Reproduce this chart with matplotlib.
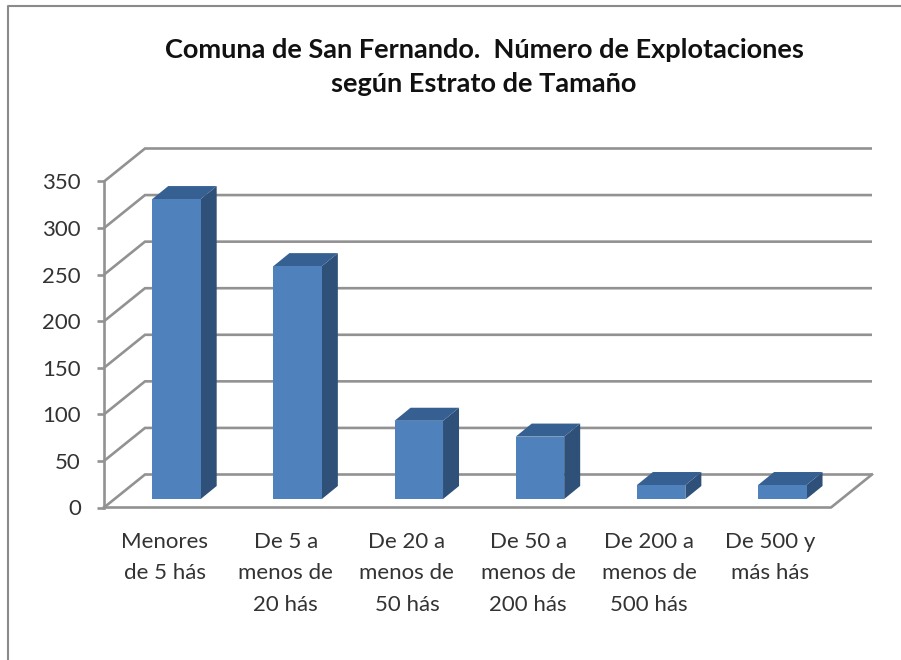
import matplotlib
matplotlib.use('Agg')
import matplotlib.pyplot as plt
from matplotlib.patches import Polygon

plt.rcParams['font.family'] = ['Lato', 'DejaVu Sans']

W = 901
H = 660

categories = ['Menores\nde 5 hás', 'De 5 a\nmenos de\n20 hás', 'De 20 a\nmenos de\n50 hás',
              'De 50 a\nmenos de\n200 hás', 'De 200 a\nmenos de\n500 hás', 'De 500 y\nmás hás']
values = [322, 250, 84, 67, 15, 15]
y_ticks = [0, 50, 100, 150, 200, 250, 300, 350]
title = 'Comuna de San Fernando.  Número de Explotaciones\nsegún Estrato de Tamaño'

grid_col = '#929292'
front_col = '#4f81bd'
side_col = '#2f5078'
top_col = '#376092'

fig = plt.figure(figsize=(W / 100, H / 100), dpi=100)

# outer frame of the pasted picture
frame = fig.add_axes([0, 0, 1, 1])
frame.set_xlim(0, W)
frame.set_ylim(H, 0)
frame.axis('off')
frame.plot([8, 8, W], [H, 6, 6], color='#8a8a8a', lw=1.5)

# axes box = front plane of the 3d chart
left, right, bottom, top = 104, 831, 507.5, 181.5
ax = fig.add_axes([left / W, 1 - bottom / H, (right - left) / W, (bottom - top) / H])
ax.set_xlim(-0.5, 5.5)
ax.set_ylim(0, 350)
ax.axis('off')

# depth of the box in data units
dx = 41 / ((right - left) / 6)
dy = 33 / ((bottom - top) / 350)

for v in y_ticks:
    ax.plot([-0.5, -0.5 + dx, 5.5 + dx], [v, v + dy, v + dy], color=grid_col, lw=1.9,
            clip_on=False, solid_joinstyle='miter', solid_capstyle='butt')
    ax.plot([-0.5 - 0.055, -0.5], [v, v], color=grid_col, lw=1.9, clip_on=False, solid_capstyle='butt')
    ax.text(-0.69, v - 2, str(v), ha='right', va='center', fontsize=16, color='#333333')
ax.plot([-0.5, -0.5], [0, 350], color=grid_col, lw=1.9, clip_on=False)
ax.plot([-0.5, 5.5, 5.5 + dx], [0, 0, dy], color=grid_col, lw=1.9, clip_on=False)

# bars, placed a little way into the depth
half = 0.2
off_x = 0.098
off_y = 9.1
bar_dx = 0.132
bar_dy = 14
for i, v in enumerate(values):
    x0 = i - half + off_x
    x1 = i + half + off_x
    y0 = off_y
    y1 = off_y + v
    ax.add_patch(Polygon([(x1, y0), (x1 + bar_dx, y0 + bar_dy), (x1 + bar_dx, y1 + bar_dy), (x1, y1)],
                         facecolor=side_col, edgecolor='none', clip_on=False, zorder=3))
    ax.add_patch(Polygon([(x0, y1), (x1, y1), (x1 + bar_dx, y1 + bar_dy), (x0 + bar_dx, y1 + bar_dy)],
                         facecolor=top_col, edgecolor='none', clip_on=False, zorder=3))
    ax.bar(x0, v, width=x1 - x0, bottom=y0, align='edge', color=front_col, clip_on=False, zorder=4)
    ax.text(i, -26, categories[i], ha='center', va='top', fontsize=16, color='#333333',
            linespacing=1.72, clip_on=False)

frame.text(484, 67, title, ha='center', va='center', fontsize=19.5, fontweight='bold',
           color='#111111', linespacing=1.55)

fig.savefig('out.png', dpi=100)
